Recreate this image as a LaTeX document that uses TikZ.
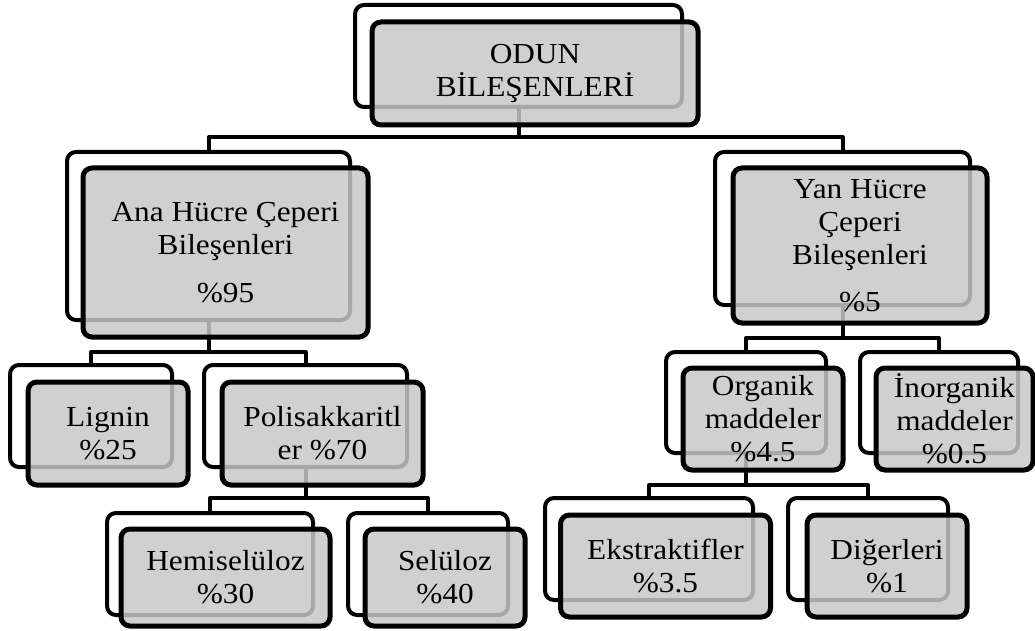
\documentclass[tikz,border=0pt]{standalone}
\usepackage{fontspec}
\setmainfont{Liberation Serif}[FakeStretch=1.08]
\definecolor{frontgray}{RGB}{199,199,199}
\tikzset{
  backbox/.style={draw=black, line width=4pt, rounded corners=9pt, fill=white, inner sep=0pt, rectangle},
  frontbox/.style={draw=black, line width=5pt, rounded corners=9pt, fill=frontgray, fill opacity=0.84, text opacity=1, inner sep=0pt, rectangle, align=center, font=\fontsize{29}{33}\selectfont},
  conn/.style={draw=black, line width=4pt, line join=round}
}
\begin{document}
\begin{tikzpicture}[x=1pt,y=-1pt]
\useasboundingbox (0,0) rectangle (1035,631);
% back boxes
\node[backbox, minimum width=327pt, minimum height=102pt] (odunB) at (518.5,56) {};
\node[backbox, minimum width=283pt, minimum height=168pt] (anaB) at (208.5,236) {};
\node[backbox, minimum width=255pt, minimum height=153pt] (yanB) at (842.5,228.5) {};
\node[backbox, minimum width=162pt, minimum height=102pt] (ligB) at (91,416) {};
\node[backbox, minimum width=203pt, minimum height=102pt] (polB) at (305.5,416) {};
\node[backbox, minimum width=160pt, minimum height=101pt] (orgB) at (746,402.5) {};
\node[backbox, minimum width=158pt, minimum height=101pt] (inoB) at (939,402.5) {};
\node[backbox, minimum width=206pt, minimum height=102pt] (hemB) at (210,564) {};
\node[backbox, minimum width=160pt, minimum height=102pt] (selB) at (428,564) {};
\node[backbox, minimum width=208pt, minimum height=102pt] (eksB) at (649,549) {};
\node[backbox, minimum width=160pt, minimum height=102pt] (digB) at (868,549) {};
% bar levels
\coordinate (bar1) at (0,137.5);
\coordinate (bar2) at (0,352);
\coordinate (bar3) at (0,338);
\coordinate (bar4) at (0,498);
\coordinate (bar5) at (0,485);
% connectors
\draw[conn] (odunB.south) -- (odunB.south |- bar1) -| (anaB.north);
\draw[conn] (odunB.south) -- (odunB.south |- bar1) -| (yanB.north);
\draw[conn] (anaB.south) -- (anaB.south |- bar2) -| (ligB.north);
\draw[conn] (anaB.south) -- (anaB.south |- bar2) -| (polB.north);
\draw[conn] (yanB.south) -- (yanB.south |- bar3) -| (orgB.north);
\draw[conn] (yanB.south) -- (yanB.south |- bar3) -| (inoB.north);
\draw[conn] (polB.south) -- (polB.south |- bar4) -| (hemB.north);
\draw[conn] (polB.south) -- (polB.south |- bar4) -| (selB.north);
\draw[conn] (orgB.south) -- (orgB.south |- bar5) -| (eksB.north);
\draw[conn] (orgB.south) -- (orgB.south |- bar5) -| (digB.north);
% front boxes
\node[frontbox, minimum width=326pt, minimum height=103pt] (odun) at (535,73.5) {ODUN\\BİLEŞENLERİ};
\node[frontbox, minimum width=285pt, minimum height=169pt] (ana) at (225.5,252.5) {Ana Hücre Çeperi\\Bileşenleri\\[15pt]\%95};
\node[frontbox, minimum width=254pt, minimum height=155pt] (yan) at (860,245.5) {Yan Hücre\\Çeperi\\Bileşenleri\\[14pt]\%5};
\node[frontbox, minimum width=160pt, minimum height=103pt] (lig) at (108,433.5) {Lignin\\\%25};
\node[frontbox, minimum width=201pt, minimum height=103pt] (pol) at (322.5,433.5) {Polisakkaritl\\er \%70};
\node[frontbox, minimum width=160pt, minimum height=102pt] (org) at (763,419) {Organik\\maddeler\\\%4.5};
\node[frontbox, minimum width=157pt, minimum height=102pt] (ino) at (954.5,419) {İnorganik\\maddeler\\\%0.5};
\node[frontbox, minimum width=209pt, minimum height=97pt] (hem) at (225.5,577.5) {Hemiselüloz\\\%30};
\node[frontbox, minimum width=160pt, minimum height=97pt] (sel) at (445,577.5) {Selüloz\\\%40};
\node[frontbox, minimum width=210pt, minimum height=102pt] (eks) at (665.5,566) {Ekstraktifler\\\%3.5};
\node[frontbox, minimum width=160pt, minimum height=102pt] (dig) at (887,566) {Diğerleri\\\%1};
\end{tikzpicture}
\end{document}
